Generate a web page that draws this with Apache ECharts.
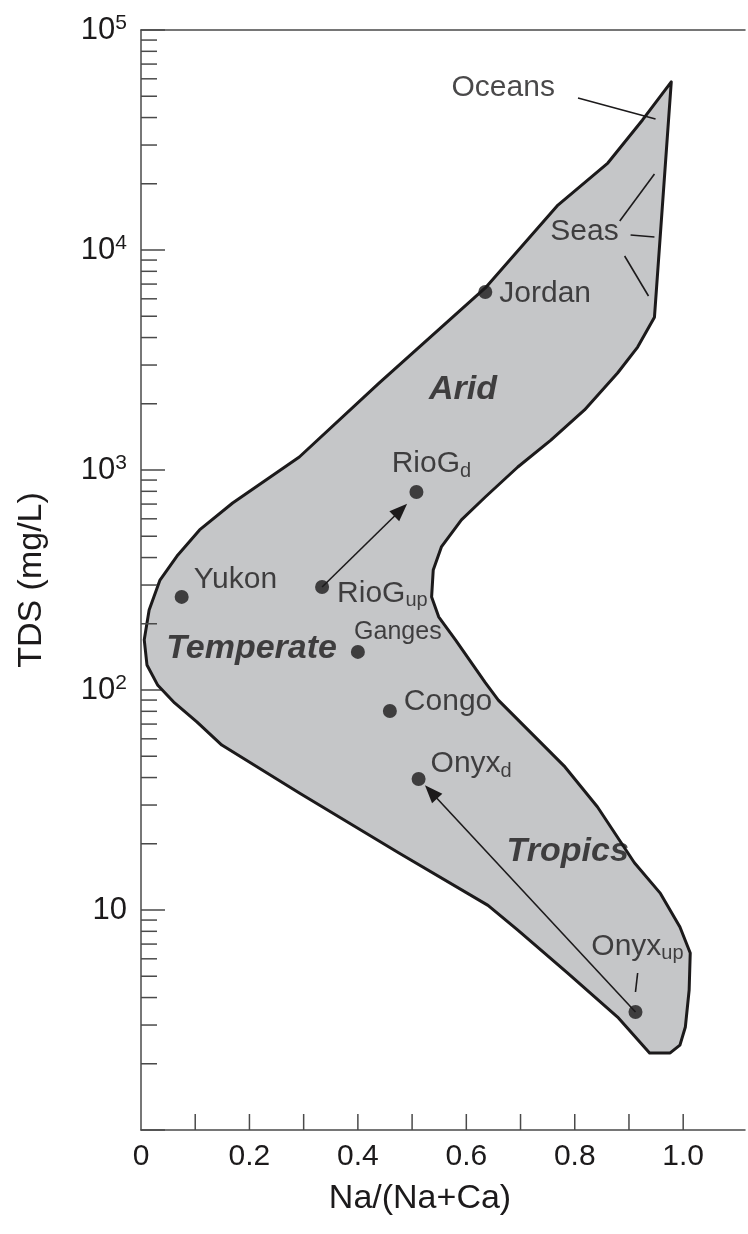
<!DOCTYPE html>
<html>
<head>
<meta charset="utf-8">
<script src="https://cdn.jsdelivr.net/npm/echarts@6/dist/echarts.min.js"></script>
<style>
  html, body { margin: 0; padding: 0; background: #fff; }
  #chart { width: 748px; height: 1234px; }
</style>
</head>
<body>
<div id="chart"></div>
<script>
  // outline of the field (Na/(Na+Ca), TDS mg/L), clockwise from the top tip
  const boundaryX = [0.978, 0.947, 0.916, 0.879, 0.818, 0.756, 0.695, 0.635, 0.591, 0.554,
    0.539, 0.536, 0.549, 0.580, 0.635, 0.659, 0.782, 0.842, 0.910, 0.958,
    0.994, 1.013, 1.011, 1.004, 0.994, 0.976, 0.938, 0.879, 0.787, 0.695,
    0.640, 0.475, 0.292, 0.149, 0.103, 0.062, 0.031, 0.011, 0.006, 0.015,
    0.035, 0.068, 0.108, 0.169, 0.292, 0.439, 0.635, 0.769, 0.861, 0.925];
  const boundaryTDS = [58100, 4950, 3620, 2760, 1875, 1368, 1032, 754, 593, 447,
    351, 265, 215, 169, 108, 90, 44.7, 29.4, 16.4, 11.9,
    8.37, 6.38, 4.33, 2.94, 2.43, 2.24, 2.24, 3.26, 5.17, 8.11,
    10.5, 18.2, 34.0, 56.2, 71.6, 87.3, 105, 130, 169, 231,
    316, 411, 534, 708, 1146, 2485, 6720, 16000, 24850, 39000];

  // rivers
  const riverNames = ['Jordan', 'RioG_d', 'RioG_up', 'Yukon', 'Ganges', 'Congo', 'Onyx_d', 'Onyx_up'];
  const riverRatio = [0.635, 0.508, 0.334, 0.075, 0.400, 0.459, 0.512, 0.912];
  const riverTDS = [6440, 794, 294, 265, 149, 80.3, 39.4, 3.44];

  // downstream arrows [from, to]
  const arrowFrom = [[0.334, 294], [0.912, 3.44]];
  const arrowTo = [[0.479, 658], [0.535, 34.4]];

  // leader lines for labels
  const leaderFrom = [[0.806, 49100], [0.883, 13550], [0.903, 11700], [0.892, 9390], [0.912, 4.24]];
  const leaderTo = [[0.949, 39400], [0.947, 22150], [0.947, 11460], [0.936, 6180], [0.916, 5.17]];

  // free text
  const noteNames = ['Oceans', 'Seas'];
  const noteRatio = [0.668, 0.818];
  const noteTDS = [54500, 12070];
  const regionNames = ['Arid', 'Temperate', 'Tropics'];
  const regionRatio = [0.594, 0.204, 0.787];
  const regionTDS = [2310, 153.5, 18.4];

  const xTickLabels = ['0', '0.2', '0.4', '0.6', '0.8', '1.0'];
  const xTicks = [0.1, 0.2, 0.3, 0.4, 0.5, 0.6, 0.7, 0.8, 0.9, 1.0];

  const FONT = '"Liberation Sans", Arial, Helvetica, sans-serif';
  const INK = '#1c1a1b';
  const AXIS = '#4a4a4a';

  const minorTicks = [];
  [1, 10, 100, 1000, 10000].forEach(function (d) {
    for (let m = 2; m <= 9; m++) minorTicks.push(m * d);
  });

  const labelText = {
    Jordan: 'Jordan', RioG_d: 'RioG{sub|d}', RioG_up: 'RioG{sub|up}', Yukon: 'Yukon',
    Ganges: 'Ganges', Congo: 'Congo', Onyx_d: 'Onyx{sub|d}', Onyx_up: 'Onyx{sub|up}'
  };
  const labelPlace = {
    Jordan: { position: 'right', offset: [2, 2] },
    RioG_d: { position: 'top', offset: [15, 1] },
    RioG_up: { position: 'right', offset: [3, 7] },
    Yukon: { position: 'right', offset: [0, -17] },
    Ganges: { position: 'top', offset: [40, 6], fontSize: 25, lineHeight: 28 },
    Congo: { position: 'right', offset: [2, -9] },
    Onyx_d: { position: 'right', offset: [0, -15] },
    Onyx_up: { position: 'top', offset: [2, -36] }
  };

  const chart = echarts.init(document.getElementById('chart'));

  // short inward tick drawn at a data position
  function tickItem(horizontal) {
    return function (params, api) {
      const p = api.coord([api.value(0), api.value(1)]);
      return {
        type: 'line',
        shape: horizontal
          ? { x1: p[0], y1: p[1], x2: p[0] + 16, y2: p[1] }
          : { x1: p[0], y1: p[1], x2: p[0], y2: p[1] - 16 },
        style: { stroke: AXIS, lineWidth: 1.5 }
      };
    };
  }

  const option = {
    animation: false,
    backgroundColor: '#fff',
    textStyle: { fontFamily: FONT },
    grid: { left: 141, right: 0, top: 30, bottom: 104 },
    xAxis: [{
      type: 'value',
      min: 0,
      max: 1.114,
      interval: 0.1,
      name: 'Na/(Na+Ca)',
      nameLocation: 'middle',
      nameGap: 52,
      nameTextStyle: { fontSize: 34, color: INK, fontFamily: FONT, padding: [0, 46, 0, 0] },
      axisLine: { lineStyle: { color: AXIS, width: 1.5 } },
      axisTick: { show: false },
      axisLabel: {
        fontSize: 30, color: INK, fontFamily: FONT, margin: 12,
        formatter: function (v) {
          const k = Math.round(v * 5);
          if (Math.abs(v * 5 - k) > 1e-6 || k > 5) return '';
          return xTickLabels[k];
        }
      },
      splitLine: { show: false }
    }, {
      type: 'value',
      position: 'top',
      min: 0,
      max: 1.114,
      axisLine: { show: true, onZero: false, lineStyle: { color: AXIS, width: 1.5 } },
      axisTick: { show: false },
      axisLabel: { show: false },
      splitLine: { show: false }
    }],
    yAxis: {
      type: 'log',
      logBase: 10,
      min: 1,
      max: 100000,
      name: 'TDS (mg/L)',
      nameLocation: 'middle',
      nameGap: 92,
      nameTextStyle: { fontSize: 34, color: INK, fontFamily: FONT },
      axisLine: { lineStyle: { color: AXIS, width: 1.5 } },
      axisTick: { inside: true, length: 24, lineStyle: { color: AXIS, width: 1.5 } },
      axisLabel: {
        fontSize: 31, lineHeight: 34, color: INK, fontFamily: FONT, margin: 14,
        formatter: function (v) {
          if (v <= 1) return '';
          const e = Math.round(Math.log10(v));
          return e === 1 ? '10' : '10{sup|' + e + '}';
        },
        rich: { sup: { fontSize: 21, lineHeight: 14, verticalAlign: 'top', color: INK, fontFamily: FONT } }
      },
      splitLine: { show: false }
    },
    series: [
      {
        type: 'custom',
        name: 'field',
        silent: true,
        z: 1,
        data: boundaryX.map(function (x, i) { return [x, boundaryTDS[i]]; }),
        renderItem: function (params, api) {
          if (params.dataIndex !== 0) return;
          const pts = boundaryX.map(function (x, i) { return api.coord([x, boundaryTDS[i]]); });
          return {
            type: 'polygon',
            shape: { points: pts },
            style: { fill: '#c5c6c8', stroke: INK, lineWidth: 3, lineJoin: 'round' }
          };
        }
      },
      {
        type: 'custom',
        name: 'y minor ticks',
        silent: true,
        z: 2,
        data: minorTicks.map(function (v) { return [0, v]; }),
        renderItem: tickItem(true)
      },
      {
        type: 'custom',
        name: 'x ticks',
        silent: true,
        z: 2,
        data: xTicks.map(function (v) { return [v, 1]; }),
        renderItem: tickItem(false)
      },
      {
        type: 'scatter',
        name: 'rivers',
        z: 5,
        symbolSize: 14,
        itemStyle: { color: INK },
        data: riverNames.map(function (n, i) {
          const pl = labelPlace[n];
          return {
            name: n,
            value: [riverRatio[i], riverTDS[i]],
            label: {
              show: true,
              position: pl.position,
              offset: pl.offset,
              fontSize: pl.fontSize || 30,
              lineHeight: pl.lineHeight || 34
            }
          };
        }),
        label: {
          show: true,
          color: INK,
          fontFamily: FONT,
          formatter: function (p) { return labelText[p.name]; },
          rich: { sub: { fontSize: 20, lineHeight: 12, verticalAlign: 'bottom', color: INK, fontFamily: FONT } }
        },
        markLine: {
          silent: true,
          animation: false,
          label: { show: false },
          lineStyle: { color: INK, width: 1.6, type: 'solid' },
          data: arrowFrom.map(function (a, i) {
            return [
              { coord: a, symbol: 'none' },
              { coord: arrowTo[i], symbol: 'triangle', symbolSize: [14, 18] }
            ];
          }).concat(leaderFrom.map(function (a, i) {
            return [
              { coord: a, symbol: 'none' },
              { coord: leaderTo[i], symbol: 'none' }
            ];
          }))
        }
      },
      {
        type: 'scatter',
        name: 'notes',
        z: 6,
        symbolSize: 0,
        silent: true,
        data: noteNames.map(function (n, i) { return { name: n, value: [noteRatio[i], noteTDS[i]] }; }),
        label: {
          show: true, position: 'inside', formatter: '{b}',
          fontSize: 30, color: INK, fontFamily: FONT
        }
      },
      {
        type: 'scatter',
        name: 'regions',
        z: 6,
        symbolSize: 0,
        silent: true,
        data: regionNames.map(function (n, i) { return { name: n, value: [regionRatio[i], regionTDS[i]] }; }),
        label: {
          show: true, position: 'inside', formatter: '{b}',
          fontSize: 34, fontWeight: 'bold', fontStyle: 'italic', color: INK, fontFamily: FONT
        }
      }
    ]
  };

  chart.setOption(option);
</script>
</body>
</html>
